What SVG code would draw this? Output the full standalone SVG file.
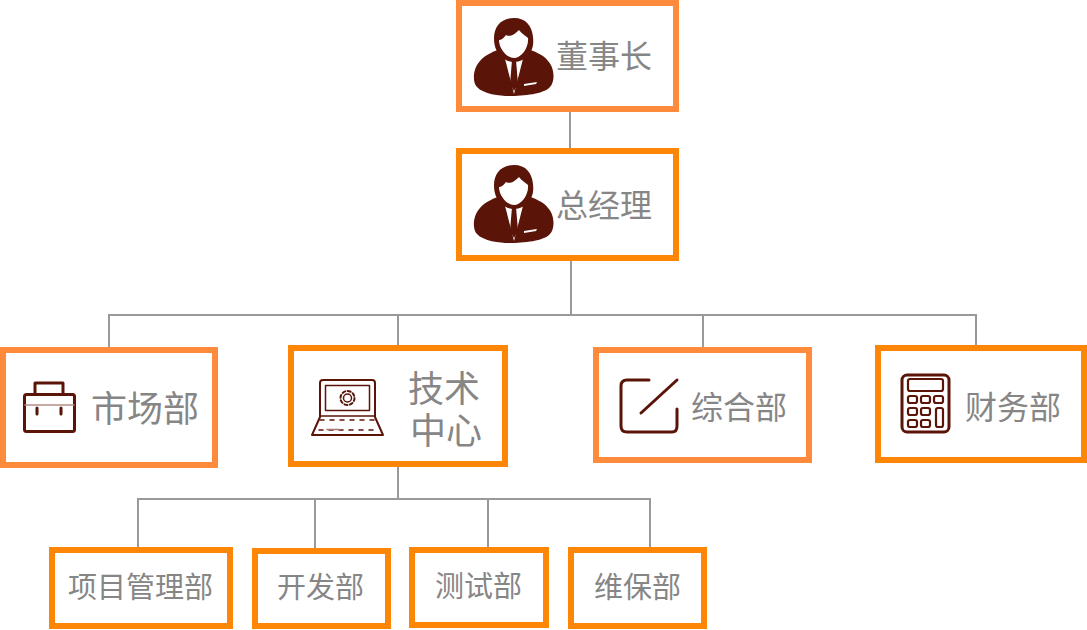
<svg xmlns="http://www.w3.org/2000/svg" width="1087" height="630" viewBox="0 0 1087 630">
<style>
.box{fill:#fff;stroke-width:6}
.a{stroke:#fe8a3c}
.b{stroke:#fe8607}
.t{font-family:"Noto Sans CJK SC","Noto Sans",sans-serif;fill:#868686;font-size:32px}
.s{font-size:28px}
.c{fill:none;stroke:#999;stroke-width:2}
.i{fill:none;stroke:#5a1408;stroke-width:3;stroke-linecap:round;stroke-linejoin:round}
.thin{stroke-width:1.5}
.f{fill:#5a1408}
.w{fill:#fff}
</style>
<defs>
<g id="person">
<path class="f" d="M0 78C-9 78-26 76-32 69C-37 64-36 50-29 43C-24 37-15 33-6 30L-1 31L11 31L16 30C25 33 35 37 39 43C46 50 46 64 41 69C35 76 15 78 0 78Z" transform="translate(-5 0)"/>
<path class="w" d="M-12 29L0 76L12 29L7 26L-7 26Z"/>
<path class="f" d="M-3 33L3 33L4 39L2 42L4 66L0 73L-4 66L-2 42L-4 39Z"/>
<path class="f" d="M0 0C-13 0-20 9-20 20C-20 28-18 33-14 37C-10 42-5 44 0 44C6 44 11 41 15 37C18 32 20 28 19 19C18 8 12 0 0 0Z"/>
<path class="w" d="M-8 17C-3 20 3 14 5 12C8 16 12 18 14 20C15 30 7 40 0 40C-7 40-15 31-15 22C-13 22-10 20-8 17Z"/>
<path class="w" d="M10 66L23 64L22 66L10 68Z"/>
</g>
</defs>
<g id="connectors" class="c">
<path d="M570 112V148"/>
<path d="M571 260V315M109 348V315H976V346M398 315V346M703 315V348"/>
<path d="M398 467V499M138 548V499H650V548M315 499V549M488 499V548"/>
</g>
<g id="n1"><rect class="box a" x="459" y="3" width="217" height="106"/>
<use href="#person" x="514" y="18"/>
<text class="t" x="556" y="68">董事长</text></g>
<g id="n2"><rect class="box b" x="459" y="151" width="217" height="107"/>
<use href="#person" x="514" y="165"/>
<text class="t" x="556" y="217">总经理</text></g>
<g id="n3"><rect class="box a" x="3" y="350" width="212" height="115"/>
<g class="i"><rect x="24.500" y="394.500" width="50" height="37" rx="2"/>
<path d="M35 394V383H63V394M37 408V414M61 408V414"/><path d="M25 405H74" stroke="#b58d85" stroke-width="1.500"/></g>
<text class="t" x="91" y="422" font-size="36" style="font-size:36px">市场部</text></g>
<g id="n4"><rect class="box b" x="291" y="348" width="214" height="116"/>
<g class="i thin"><path d="M320 417V383Q320 380 323 380H372Q375 380 375 383V417L383 435H312Z" stroke-width="2"/><path d="M320 416H375"/><rect x="325.500" y="385.500" width="44" height="25"/>
<circle cx="347.500" cy="398" r="4"/><circle cx="347.500" cy="398" r="7" stroke-dasharray="3 2.500" stroke-width="2"/>
<path d="M320 420H375M319 430H379" stroke-dasharray="4 6"/><path d="M327 429.500H340" stroke="#a77"/></g>
<text class="t" style="font-size:36px" x="408" y="402">技术</text><text class="t" style="font-size:36px" x="410" y="444">中心</text></g>
<g id="n5"><rect class="box a" x="596" y="350" width="213" height="110"/>
<path class="i" stroke-width="3" d="M649 380H627Q621 380 621 386V426Q621 432 627 432H672Q677 432 677 426V409M641 413L677 380"/>
<text class="t" x="691" y="419">综合部</text></g>
<g id="n6"><rect class="box b" x="878" y="348" width="206" height="112"/>
<g class="i"><rect x="902" y="375" width="47" height="57" rx="5"/></g>
<g class="i thin" style="stroke-width:2.200"><rect x="908" y="379" width="35" height="12" rx="2"/>
<rect x="908" y="396" width="9" height="7" rx="2"/><rect x="921" y="396" width="9" height="7" rx="2"/><rect x="934" y="396" width="9" height="7" rx="2"/>
<rect x="908" y="408" width="9" height="7" rx="2"/><rect x="921" y="408" width="9" height="7" rx="2"/>
<rect x="908" y="420" width="9" height="7" rx="2"/><rect x="921" y="420" width="9" height="7" rx="2"/><rect x="936" y="408" width="7" height="19" rx="2"/></g>
<text class="t" x="965" y="419">财务部</text></g>
<g id="n7"><rect class="box b" x="52" y="550" width="178" height="76"/><text class="t s" x="68" y="598" style="font-size:29px">项目管理部</text></g>
<g id="n8"><rect class="box b" x="255" y="551" width="133" height="75"/><text class="t s" x="277" y="598" style="font-size:29px">开发部</text></g>
<g id="n9"><rect class="box b" x="412" y="550" width="134" height="75"/><text class="t s" x="435" y="597" style="font-size:29px">测试部</text></g>
<g id="n10"><rect class="box b" x="571" y="550" width="133" height="76"/><text class="t s" x="594" y="598" style="font-size:29px">维保部</text></g>
</svg>
